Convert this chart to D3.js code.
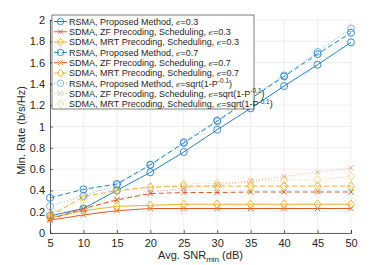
<!DOCTYPE html>
<html>
<head>
<meta charset="utf-8">
<script src="https://cdn.jsdelivr.net/npm/d3@7"></script>
<style>
  body { margin: 0; background: #fff; }
  text { font-family: "Liberation Sans", Arial, sans-serif; fill: #262626; }
</style>
</head>
<body>
<svg id="chart" width="388" height="265"></svg>
<script>
// x values (avg SNR_min, dB)
var snr = [5, 10, 15, 20, 25, 30, 35, 40, 45, 50];
var yTicks = [0, 0.2, 0.4, 0.6, 0.8, 1, 1.2, 1.4, 1.6, 1.8, 2];

// eps = 0.3
var rsma03 = [0.16, 0.23, 0.40, 0.57, 0.76, 0.97, 1.17, 1.38, 1.58, 1.79];
var zf03 = [0.12, 0.17, 0.21, 0.23, 0.23, 0.23, 0.23, 0.23, 0.23, 0.23];
var mrt03 = [0.14, 0.21, 0.25, 0.26, 0.27, 0.27, 0.27, 0.27, 0.27, 0.27];
// eps = 0.7
var rsma07 = [0.33, 0.41, 0.46, 0.64, 0.845, 1.05, 1.26, 1.47, 1.68, 1.88];
var zf07 = [0.13, 0.23, 0.31, 0.37, 0.38, 0.38, 0.385, 0.385, 0.385, 0.385];
var mrt07 = [0.16, 0.34, 0.40, 0.43, 0.44, 0.44, 0.44, 0.44, 0.44, 0.44];
// eps = sqrt(1-P^-0.1)
var rsmaSq = [0.25, 0.35, 0.45, 0.64, 0.855, 1.06, 1.27, 1.48, 1.70, 1.92];
var zfSq = [0.14, 0.22, 0.32, 0.38, 0.42, 0.45, 0.49, 0.53, 0.57, 0.61];
var mrtSq = [0.19, 0.31, 0.39, 0.43, 0.46, 0.47, 0.48, 0.50, 0.50, 0.53];

var blue = '#1f7fcc', orange = '#de5a23', yellow = '#eeb02a';

var series = [
  { name: 'RSMA, Proposed Method,', eps: '0.3', values: rsma03, color: blue, marker: 'o', dash: null, op: 1 },
  { name: 'SDMA, ZF Precoding, Scheduling,', eps: '0.3', values: zf03, color: orange, marker: 'x', dash: null, op: 1 },
  { name: 'SDMA, MRT Precoding, Scheduling,', eps: '0.3', values: mrt03, color: yellow, marker: 'd', dash: null, op: 1 },
  { name: 'RSMA, Proposed Method,', eps: '0.7', values: rsma07, color: blue, marker: 'o', dash: '5,3', op: 1 },
  { name: 'SDMA, ZF Precoding, Scheduling,', eps: '0.7', values: zf07, color: orange, marker: 'x', dash: '5,3', op: 1 },
  { name: 'SDMA, MRT Precoding, Scheduling,', eps: '0.7', values: mrt07, color: yellow, marker: 'd', dash: '5,3', op: 1 },
  { name: 'RSMA, Proposed Method,', eps: 'sqrt', values: rsmaSq, color: blue, marker: 'o', dash: '1,2', op: 0.6 },
  { name: 'SDMA, ZF Precoding, Scheduling,', eps: 'sqrt', values: zfSq, color: orange, marker: 'x', dash: '1,2', op: 0.5 },
  { name: 'SDMA, MRT Precoding, Scheduling,', eps: 'sqrt', values: mrtSq, color: yellow, marker: 'd', dash: '1,2', op: 0.5 },
];

var svg = d3.select('#chart'),
  margin = { top: 20, right: 37, bottom: 32, left: 50 },
  width = +svg.attr('width') - margin.left - margin.right,
  height = +svg.attr('height') - margin.top - margin.bottom;

var x = d3.scaleLinear().domain([5, 50]).range([0, width]);
var y = d3.scaleLinear().domain([0, 2]).range([height, 0]);

var g = svg.append('g')
  .attr('transform', 'translate(' + margin.left + ',' + margin.top + ')');

// grid
g.append('g').selectAll('line').data(snr).join('line')
  .attr('x1', (d) => x(d)).attr('x2', (d) => x(d))
  .attr('y1', 0).attr('y2', height)
  .attr('stroke', '#e6e6e6').attr('stroke-width', 0.7);
g.append('g').selectAll('line').data(yTicks).join('line')
  .attr('x1', 0).attr('x2', width)
  .attr('y1', (d) => y(d)).attr('y2', (d) => y(d))
  .attr('stroke', '#e6e6e6').attr('stroke-width', 0.7);

// axes
var xAxis = g.append('g')
  .attr('transform', 'translate(0,' + height + ')')
  .call(d3.axisBottom(x).tickValues(snr).tickSize(-3).tickPadding(6));
var yAxis = g.append('g')
  .call(d3.axisLeft(y).tickValues(yTicks).tickSize(-3).tickPadding(5)
    .tickFormat((d) => d3.format('')(d)));
[xAxis, yAxis].forEach(function (a) {
  a.select('.domain').attr('stroke', '#262626').attr('stroke-width', 0.7);
  a.selectAll('.tick line').attr('stroke', '#262626').attr('stroke-width', 0.7);
  a.selectAll('.tick text').attr('font-size', 11).attr('fill', '#262626')
    .attr('font-family', '"Liberation Sans", Arial, sans-serif');
});

// axis labels
var xl = svg.append('text')
  .attr('x', margin.left + width / 2).attr('y', 259)
  .attr('text-anchor', 'middle').attr('font-size', 11);
xl.append('tspan').text('Avg. SNR');
xl.append('tspan').attr('font-size', 8).attr('dy', 3).text('min');
xl.append('tspan').attr('dy', -3).text(' (dB)');

svg.append('text')
  .attr('transform', 'translate(25,' + (margin.top + height / 2 + 4) + ') rotate(-90)')
  .attr('text-anchor', 'middle').attr('font-size', 11)
  .text('Min. Rate (b/s/Hz)');

function drawMarker(sel, type, color, s) {
  if (type === 'o') {
    sel.append('circle').attr('r', s).attr('fill', 'none')
      .attr('stroke', color).attr('stroke-width', 0.9);
  } else if (type === 'x') {
    sel.append('path').attr('d', d3.symbol(d3.symbolX, s * s * 1.6)())
      .attr('fill', 'none').attr('stroke', color).attr('stroke-width', 0.9);
  } else {
    sel.append('path')
      .attr('d', 'M0,' + -s * 1.25 + 'L' + s + ',0L0,' + s * 1.25 + 'L' + -s + ',0Z')
      .attr('fill', 'none').attr('stroke', color).attr('stroke-width', 0.9);
  }
}

var line = d3.line().x((d, i) => x(snr[i])).y((d) => y(d));

series.forEach(function (s) {
  var sg = g.append('g').attr('opacity', s.op);
  sg.append('path').datum(s.values)
    .attr('d', line)
    .attr('fill', 'none')
    .attr('stroke', s.color)
    .attr('stroke-width', 1)
    .attr('stroke-dasharray', s.dash);
  s.values.forEach(function (v, i) {
    var m = sg.append('g').attr('transform', 'translate(' + x(snr[i]) + ',' + y(v) + ')');
    drawMarker(m, s.marker, s.color, 3.5);
  });
});

// legend
var lg = svg.append('g').attr('transform', 'translate(52,15)');
lg.append('rect').attr('width', 202).attr('height', 94)
  .attr('fill', '#fff').attr('stroke', '#262626').attr('stroke-width', 0.6);
series.forEach(function (s, i) {
  var cy = 6.5 + i * 10.3;
  var row = lg.append('g').attr('opacity', s.op);
  row.append('line').attr('x1', 2).attr('x2', 15).attr('y1', cy).attr('y2', cy)
    .attr('stroke', s.color).attr('stroke-width', 1).attr('stroke-dasharray', s.dash);
  drawMarker(row.append('g').attr('transform', 'translate(8.5,' + cy + ')'), s.marker, s.color, 3.2);
  var t = lg.append('text').attr('x', 17).attr('y', cy + 3.3).attr('font-size', 9);
  t.append('tspan').text(s.name + '  ');
  t.append('tspan').attr('font-family', '"DejaVu Serif", serif').attr('font-style', 'italic')
    .attr('font-size', 8).text('ϵ');
  if (s.eps === 'sqrt') {
    t.append('tspan').text('=sqrt(1-P');
    t.append('tspan').attr('font-size', 6.5).attr('dy', -3.5).text('-0.1');
    t.append('tspan').attr('dy', 3.5).text(')');
  } else {
    t.append('tspan').text('=' + s.eps);
  }
});
</script>
</body>
</html>
